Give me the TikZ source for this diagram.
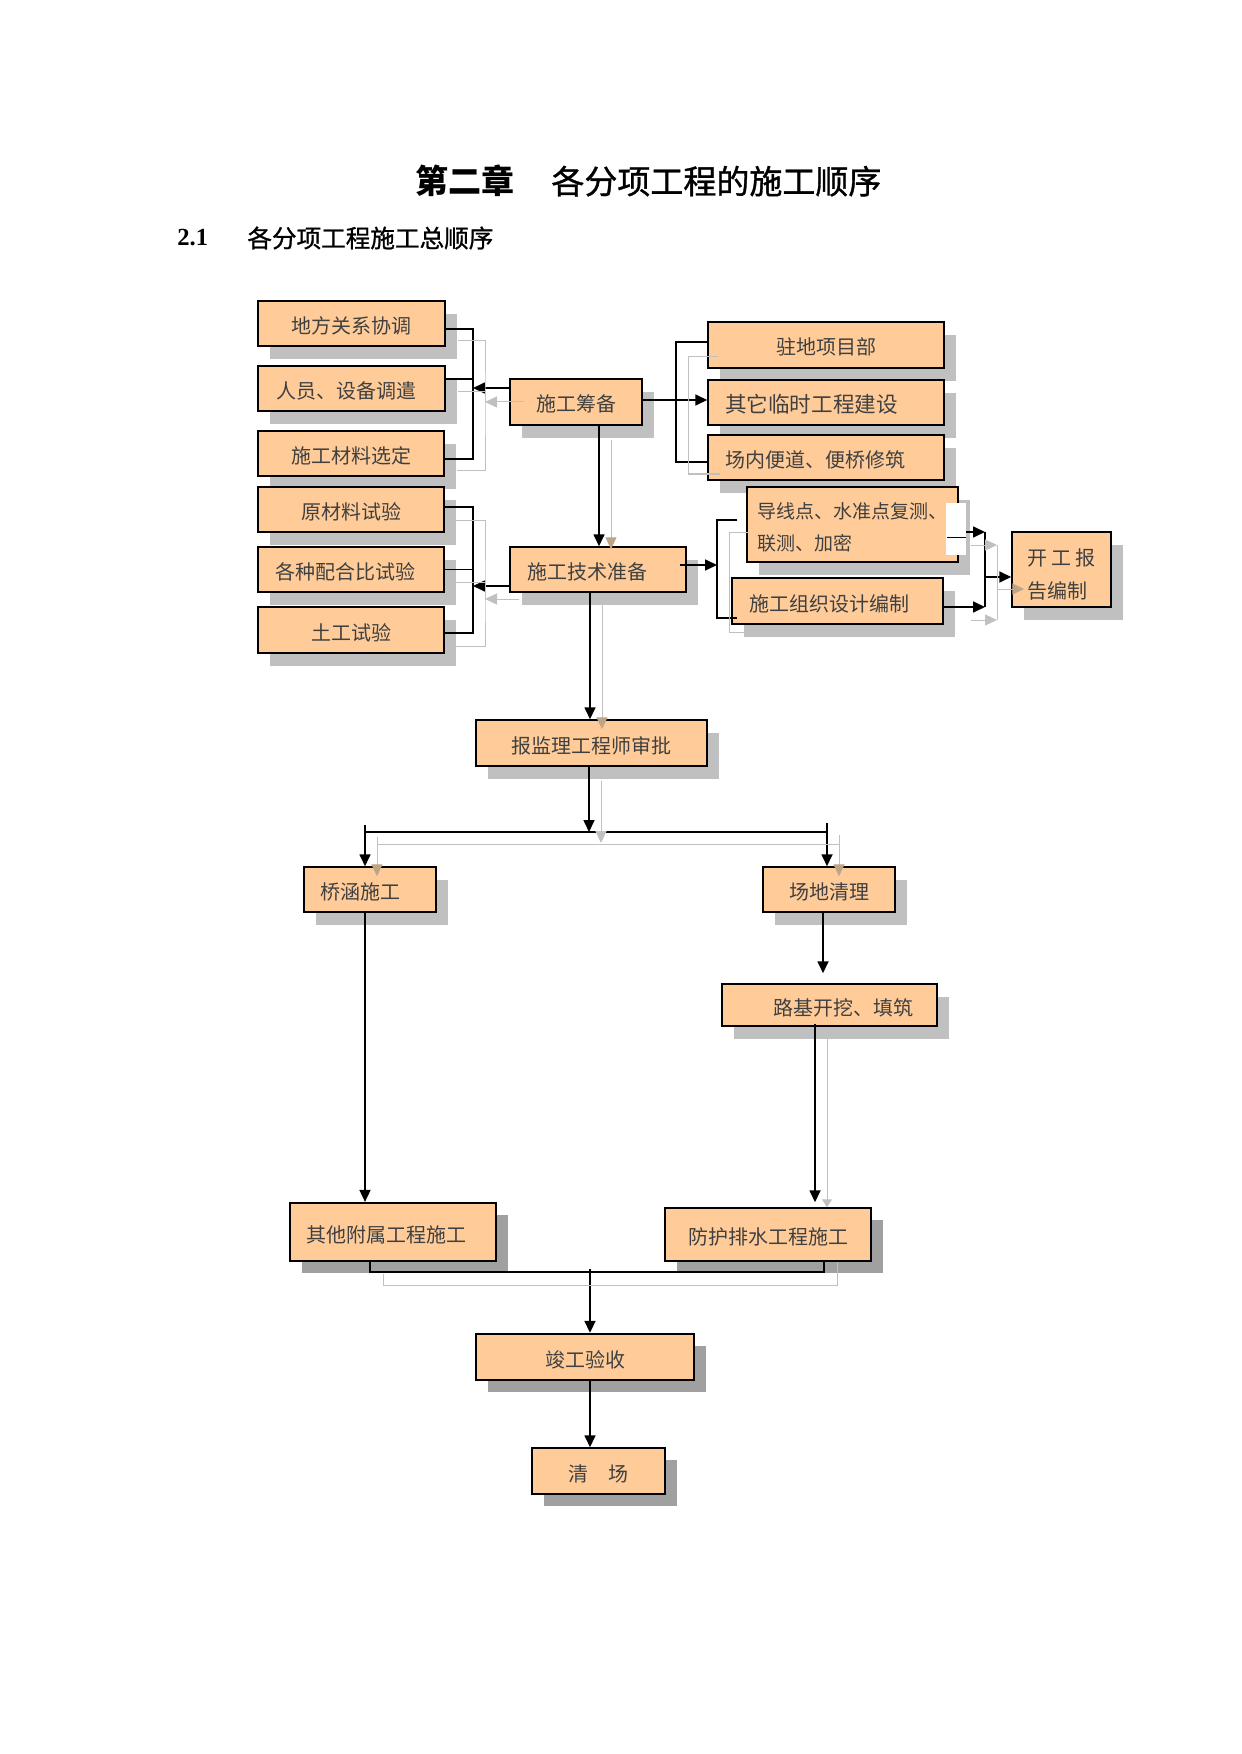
\documentclass[tikz,border=0pt]{standalone}
\usepackage{fontspec}
\setmainfont{Liberation Serif}
\newfontfamily\cjk{Noto Sans CJK SC}
\newfontfamily\cjkmid[FakeBold=1]{Noto Sans CJK SC}
\usetikzlibrary{arrows.meta,shadows}
\definecolor{boxfill}{HTML}{FFCC99}
\definecolor{shadowgray}{HTML}{C0C0C0}
\definecolor{darkshadow}{HTML}{A0A0A0}
\definecolor{ghostgray}{HTML}{C0C0C0}
\definecolor{tanhead}{HTML}{BFA588}
\definecolor{textgray}{HTML}{404040}

\begin{document}
\begin{tikzpicture}[x=0.5pt,y=-0.5pt,>={Triangle[length=6pt,width=5.5pt]},
  every node/.style={font=\cjk\fontsize{10pt}{16pt}\selectfont,text=textgray},
  boxsize/.style 2 args={minimum width=#1*0.5pt,minimum height=#2*0.5pt},
  lefttext/.style={align=left,text width=#1*0.5pt},
  stagebase/.style={draw,line width=0.75pt,fill=boxfill,inner sep=0pt,text height=10pt,text depth=0pt},
  stage/.style={stagebase,drop shadow={shadow xshift=6pt,shadow yshift=-6.5pt,fill=shadowgray,draw=none,opacity=1}},
  laststage/.style={stagebase,drop shadow={shadow xshift=6pt,shadow yshift=-6pt,fill=darkshadow,draw=none,opacity=1}},
  link/.style={draw=black,line width=0.85pt},
  ghost/.style={draw=ghostgray,line width=0.5pt},
  ghostin/.style={ghost,-{Triangle[length=6pt,width=5.5pt,color=tanhead]}}]
  \path[use as bounding box,fill=white] (0,0) rectangle (1241,1754);

  % headings
  \node[anchor=west,inner sep=0pt,text=black,font=\cjk\bfseries\fontsize{16.5pt}{20pt}\selectfont] (chapter) at (415,181)
    {第二章\hspace{18.5pt}{\cjkmid\mdseries 各分项工程的施工顺序}};
  \node[anchor=west,inner sep=0pt,text=black,font=\bfseries\fontsize{12.3pt}{15pt}\selectfont] (secnum) at (177,238) {2.1};
  \node[anchor=west,inner sep=0pt,text=black,font=\cjkmid\fontsize{12.3pt}{15pt}\selectfont] (sectitle) at (247,238) {各分项工程施工总顺序};

  % boxes
  \node[stage,boxsize={187}{45}] (dfgx) at (351.5,323.5) {地方关系协调};
  \node[stage,boxsize={187}{45},lefttext=151] (rysb) at (351.5,388.5) {人员、设备调遣};
  \node[stage,boxsize={186}{45}] (clxd) at (351,453.5) {施工材料选定};
  \node[stage,boxsize={186}{45}] (ycl) at (351,509.5) {原材料试验};
  \node[stage,boxsize={186}{45},lefttext=151] (phb) at (351,569.5) {各种配合比试验};
  \node[stage,boxsize={186}{46}] (tg) at (351,630) {土工试验};
  \node[stage,boxsize={132}{46}] (chb) at (576,402) {施工筹备};
  \node[stage,boxsize={176}{45},lefttext=142] (jszb) at (598,569.5) {施工技术准备};
  \node[stage,boxsize={236}{46}] (zd) at (826,345) {驻地项目部};
  \node[stage,boxsize={236}{45},lefttext=202,font=\cjk\fontsize{10.8pt}{16pt}\selectfont] (lsgc) at (826,402.5) {其它临时工程建设};
  \node[stage,boxsize={236}{45},lefttext=202] (bd) at (826,457.5) {场内便道、便桥修筑};
  \node[stage,boxsize={211}{75},align=left,text height=26.3pt,text depth=0pt,font=\cjk\fontsize{9.5pt}{16pt}\selectfont] (dx) at (852.5,524.5) {导线点、水准点复测、\\联测、加密};
  \node[stage,boxsize={211}{46},lefttext=177] (zzsj) at (837.5,601) {施工组织设计编制};
  \node[stage,boxsize={99}{75},align=left,text height=28.6pt,text depth=0pt,font=\cjk\fontsize{10pt}{16.5pt}\selectfont] (kgbg) at (1061.5,569.5) {开\hspace{2pt}工\hspace{2pt}报\\告编制};
  \node[stage,boxsize={231}{46}] (jl) at (591.5,743) {报监理工程师审批};
  \node[stage,boxsize={132}{45},lefttext=100] (qh) at (370,889.5) {桥涵施工};
  \node[stage,boxsize={132}{45}] (cdql) at (829,889.5) {场地清理};
  \node[stage,boxsize={215}{42}] (lj) at (829.5,1005) {\hspace{14pt}路基开挖、填筑};
  \node[laststage,boxsize={206}{58},line width=1.1pt,lefttext=174] (fs) at (393,1232) {其他附属工程施工};
  \node[laststage,boxsize={206}{53}] (ph) at (768,1234.5) {防护排水工程施工};
  \node[laststage,boxsize={218}{46},line width=1.2pt] (jg) at (585,1357) {竣工验收};
  \node[laststage,boxsize={133}{46}] (qc) at (598.5,1471) {清\hspace{10pt}场};

  % left brackets
  \coordinate (lspineA) at (473,388);
  \coordinate (lghostA) at (485,402);
  \draw[link] ([yshift=-2.75pt]dfgx.east) -| (lspineA) |- ([yshift=-2.75pt]clxd.east);
  \draw[link] ([yshift=4.75pt]rysb.east) -| (lspineA);
  \draw[link,->] ([yshift=7pt]chb.west) -- (lspineA);
  \draw[ghost] ([xshift=6pt,yshift=-8.75pt]dfgx.east) -| (lghostA) |- ([xshift=6pt,yshift=-8.75pt]clxd.east);
  \draw[ghost] ([xshift=6pt,yshift=-1.75pt]rysb.east) -| (lghostA);
  \draw[ghost,->] ([xshift=7.5pt]chb.west) -- (lghostA);

  \coordinate (lspineB) at (473,586);
  \coordinate (lghostB) at (485,599);
  \draw[link] ([yshift=1.25pt]ycl.east) -| (lspineB) |- ([yshift=-1.5pt]tg.east);
  \draw[link] (phb.east) -| (lspineB);
  \draw[link,->] ([yshift=-8.25pt]jszb.west) -- (lspineB);
  \draw[ghost] ([xshift=5pt,yshift=-5.25pt]ycl.east) -| (lghostB) |- ([xshift=5pt,yshift=-8pt]tg.east);
  \draw[ghost] ([xshift=5pt,yshift=-6.25pt]phb.east) -| (lghostB);
  \draw[ghost,->] ([xshift=5pt,yshift=-14.75pt]jszb.west) -- (lghostB);

  % 施工筹备 down to 施工技术准备
  \draw[link,->] ([xshift=11.5pt]chb.south) -- ([xshift=0.5pt]jszb.north);
  \draw[ghostin] ([xshift=17.5pt,yshift=-7pt]chb.south) -- ([xshift=6.5pt,yshift=-1.5pt]jszb.north);

  % right brackets
  \coordinate (rspineA) at (676,400);
  \coordinate (rghostA) at (688,400);
  \draw[link,->] ([yshift=1pt]chb.east) -- ([yshift=1.25pt]lsgc.west);
  \draw[link] ([yshift=1.5pt]zd.west) -| (rspineA) |- ([yshift=-2.25pt]bd.west);
  \draw[ghost] ([xshift=5.5pt,yshift=-6pt]zd.west) -| (rghostA) |- ([xshift=6.5pt,yshift=-8.25pt]bd.west);

  \coordinate (rspineB) at (717,565);
  \coordinate (rghostB) at (729,580);
  \draw[link,->] ([xshift=-3.5pt,yshift=2.25pt]jszb.east) -- (rspineB);
  \draw[link] ([xshift=-4.5pt,yshift=2.25pt]dx.west) -| (rspineB) |- ([xshift=3pt,yshift=-8.5pt]zzsj.west);
  \draw[ghost] ([xshift=1.5pt,yshift=-3.75pt]dx.west) -| (rghostB) |- ([xshift=9pt,yshift=-15.5pt]zzsj.west);

  % to 开工报告编制
  \fill[white] ([xshift=-6.5pt,yshift=10.75pt]dx.east) rectangle ([xshift=3.5pt,yshift=-15.25pt]dx.east);
  \coordinate (ktop) at (985,532);
  \coordinate (kmid) at (985,577);
  \coordinate (kbot) at (985,607);
  \draw[link,line width=0.5pt] ([xshift=-6pt,yshift=-6.25pt]dx.east) -- ([xshift=3.5pt,yshift=-6.25pt]dx.east);
  \draw[link,->] ([xshift=3.5pt,yshift=-3.75pt]dx.east) -- (ktop);
  \draw[link,->] ([yshift=-3pt]zzsj.east) -- (kbot);
  \draw[link] (ktop) -- (kbot);
  \draw[link,->] (kmid) -- ([yshift=-3.75pt]kgbg.west);
  \coordinate (gtop) at (997,545);
  \coordinate (gmid) at (997,589);
  \coordinate (gbot) at (997,620);
  \draw[ghost,->] ([xshift=6pt,yshift=-10.25pt]dx.east) -- (gtop);
  \draw[ghost,->] ([xshift=13.5pt,yshift=-9.5pt]zzsj.east) -- (gbot);
  \draw[ghost] (gtop) -- (gbot);
  \draw[ghostin] (gmid) -- ([xshift=6.5pt,yshift=-9.75pt]kgbg.west);

  % 施工技术准备 to 报监理工程师审批
  \draw[link,->] ([xshift=-4pt]jszb.south) -- ([xshift=-0.75pt]jl.north);
  \draw[ghostin] ([xshift=2pt,yshift=-4.5pt]jszb.south) -- ([xshift=5.25pt,yshift=-5pt]jl.north);

  % split
  \coordinate (split) at (589,832);
  \coordinate (splitL) at (365,832);
  \coordinate (splitR) at (827,832);
  \draw[link,->] ([xshift=-1.25pt]jl.south) -- (split);
  \draw[link] (splitL) -- (splitR);
  \draw[link,->] ([yshift=3.5pt]splitL) -- ([xshift=-2.5pt]qh.north);
  \draw[link,->] ([yshift=4.5pt]splitR) -- ([xshift=-1pt]cdql.north);
  \coordinate (gsplit) at (601,843);
  \coordinate (gsplitL) at (377,844);
  \coordinate (gsplitR) at (839,844);
  \draw[ghost,->] ([xshift=4.75pt,yshift=-7pt]jl.south) -- (gsplit);
  \draw[ghost] (gsplitL) -- (gsplitR);
  \draw[ghostin] ([yshift=3.5pt]gsplitL) -- ([xshift=3.5pt,yshift=-5pt]qh.north);
  \draw[ghostin] ([yshift=4.5pt]gsplitR) -- ([xshift=5pt,yshift=-5pt]cdql.north);

  % branches
  \draw[link,->] ([xshift=-2.5pt]qh.south) -- ([xshift=-14pt]fs.north);
  \draw[link,->] ([xshift=-3pt]cdql.south) -- ([xshift=-3.25pt,yshift=5pt]lj.north);
  \draw[link,->] ([xshift=-7.25pt,yshift=1.5pt]lj.south) -- ([xshift=23.5pt,yshift=2.5pt]ph.north);
  \draw[ghost,-{Triangle[length=4pt,width=5pt]}] ([xshift=-1.25pt,yshift=-5pt]lj.south) -- ([xshift=29.5pt]ph.north);

  % join
  \coordinate (joinL) at (370,1272);
  \coordinate (join) at (590,1272);
  \coordinate (joinR) at (824,1272);
  \draw[link,line width=0.6pt] ([xshift=-11.5pt]fs.south) -- (joinL) -- (joinR) -- ([xshift=28pt]ph.south);
  \draw[link,->] ([yshift=1.5pt]join) -- ([xshift=2.5pt]jg.north);
  \coordinate (gjoinL) at (383,1285);
  \coordinate (gjoinR) at (837,1285);
  \draw[ghost] ([xshift=-5pt,yshift=-6pt]fs.south) -- (gjoinL) -- (gjoinR) -- ([xshift=34.5pt]ph.south);
  \draw[link,->] ([xshift=2.5pt]jg.south) -- ([xshift=-4.25pt]qc.north);
\end{tikzpicture}
\end{document}
